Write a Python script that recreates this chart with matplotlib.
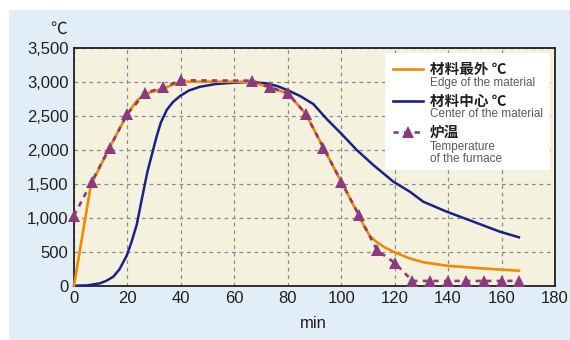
import matplotlib
matplotlib.use("Agg")
import matplotlib.pyplot as plt
from matplotlib.lines import Line2D
from matplotlib.patches import Rectangle
from matplotlib.ticker import FuncFormatter

plt.rcParams['font.family'] = ['Liberation Sans', 'Noto Sans CJK SC', 'DejaVu Sans']

# Furnace temperature (triangles)
furnace_x = [0, 6.67, 13.33, 20, 26.67, 33.33, 40, 66.67, 73.33, 80, 86.67, 93.33,
             100, 106.67, 113.33, 120, 126.67, 133.33, 140, 146.67, 153.33, 160, 166.67]
furnace_y = [1030, 1530, 2030, 2530, 2830, 2920, 3020, 3015, 2920, 2830, 2530, 2030,
             1530, 1035, 525, 335, 70, 70, 70, 70, 70, 70, 70]

# Edge of the material
edge_x = [0, 6.3, 13.33, 20, 23.5, 26.67, 33.33, 40, 66.67, 73.33, 80, 86.67, 93.33,
          100, 106.67, 109, 111, 113, 116, 119.5, 125, 130.7, 139.5, 152, 166.5]
edge_y = [0, 1480, 2030, 2530, 2720, 2820, 2900, 3000, 3000, 2910, 2830, 2530, 2030,
          1530, 1030, 840, 720, 650, 570, 500, 410, 345, 294, 256, 220]

# Center of the material
center_x = [0, 5, 9.7, 12, 14.7, 17, 19.7, 21.5, 23.5, 25, 27.5, 30.9, 32.5, 34.7,
            37, 39.7, 43, 47.2, 53, 59.6, 65, 72.1, 76.5, 80.8, 84.6, 89.6, 94.6,
            99.9, 105.8, 112, 119.5, 125.7, 130.7, 139.5, 149.5, 159.4, 166.5]
center_y = [0, 5, 35, 70, 132, 240, 440, 640, 900, 1200, 1680, 2191, 2400, 2584,
            2700, 2790, 2870, 2926, 2965, 2985, 2995, 2976, 2930, 2860, 2790, 2670,
            2450, 2241, 1996, 1775, 1530, 1382, 1235, 1088, 941, 794, 712]

xticks = [0, 20, 40, 60, 80, 100, 120, 140, 160, 180]
yticks = [0, 500, 1000, 1500, 2000, 2500, 3000, 3500]

ORANGE = '#f08a00'
BLUE = '#1d2088'
PURPLE = '#8c3a7c'

W, H = 570, 340
fig = plt.figure(figsize=(W / 100, H / 100), dpi=100)
fig.patch.set_facecolor('white')
fig.patches.append(Rectangle((9 / W, -0.05), 1.1, (H - 10) / H + 0.05,
                             transform=fig.transFigure, facecolor='#e2eef7',
                             edgecolor='none', zorder=-10))

ax = fig.add_axes([74 / W, 1 - 285.7 / H, (555 - 74) / W, (285.7 - 47.7) / H])
ax.set_facecolor('#f5f1df')
ax.set_xlim(0, 180)
ax.set_ylim(0, 3500)
ax.set_xticks(xticks)
ax.set_yticks(yticks)
ax.yaxis.set_major_formatter(FuncFormatter(lambda v, p: f'{int(v):,}'))
ax.tick_params(length=0, labelsize=12, colors='#231f20', pad=4)
ax.grid(True, color='#8a8a8a', linestyle=(0, (3, 3)), linewidth=0.9)
ax.set_axisbelow(True)
for s in ax.spines.values():
    s.set_color('#231f20')
    s.set_linewidth(1.3)

ax.plot(center_x, center_y, color=BLUE, lw=1.8, zorder=3, clip_on=False,
        solid_joinstyle='round')
ax.plot(edge_x, edge_y, color=ORANGE, lw=1.9, zorder=4, clip_on=False,
        solid_joinstyle='round')
ax.plot(furnace_x, furnace_y, color=PURPLE, lw=1.9, linestyle=(0, (2, 2)),
        marker='^', markersize=8, markeredgewidth=0, zorder=5, clip_on=False)

fig.text(59 / W, 1 - 29 / H, '℃', fontsize=12, ha='center', va='center',
         color='#231f20', family=['Noto Sans CJK SC', 'DejaVu Sans'])
fig.text(313.7 / W, 1 - 323 / H, 'min', fontsize=12, ha='center', va='center',
         color='#231f20')

# Legend box
fig.patches.append(Rectangle((385 / W, 1 - 170 / H), (550 - 385) / W, (170 - 53) / H,
                             transform=fig.transFigure, facecolor='white',
                             edgecolor='none', zorder=5))

def fx(px):
    return px / W

def fy(py):
    return 1 - py / H

cjk = ['Noto Sans CJK SC', 'DejaVu Sans']
entries = [
    (69, 82.7, ORANGE, '-', None, '材料最外 ℃', ['Edge of the material']),
    (100.7, 114, BLUE, '-', None, '材料中心 ℃', ['Center of the material']),
    (131.7, 147.3, PURPLE, (0, (2, 2)), '^', '炉温', ['Temperature', 'of the furnace']),
]
for ly, ey, col, ls, mk, zh, en in entries:
    fig.add_artist(Line2D([fx(392.7), fx(423.3)], [fy(ly), fy(ly)], color=col, lw=1.9,
                          linestyle=ls, transform=fig.transFigure, zorder=6))
    if mk:
        fig.add_artist(Line2D([fx(408)], [fy(ly)], color=col, marker=mk, markersize=8,
                              markeredgewidth=0, linestyle='none',
                              transform=fig.transFigure, zorder=7))
    fig.text(fx(430), fy(ly), zh, fontsize=10.5, fontweight='bold', ha='left',
             va='center', color='#231f20', family=cjk, zorder=7)
    for i, line in enumerate(en):
        fig.text(fx(430), fy(ey + i * 12), line, fontsize=8.5, ha='left', va='center',
                 color='#5a5a5a', zorder=7)

fig.savefig('out.png', dpi=100, facecolor=fig.get_facecolor())
